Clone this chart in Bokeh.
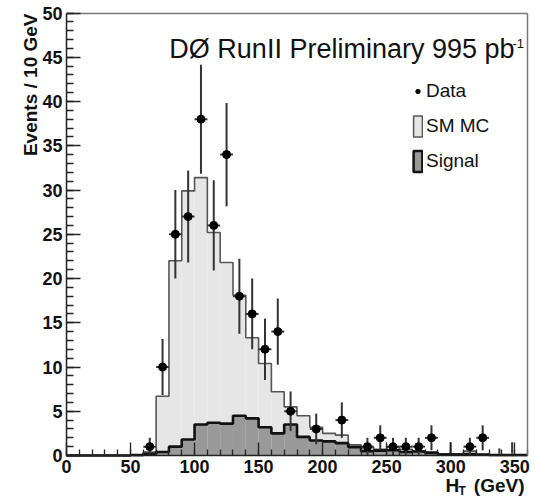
import math
from bokeh.plotting import figure
from bokeh.models import Range1d, Label, Legend, LegendItem, FixedTicker, LinearAxis
from bokeh.embed import file_html
from bokeh.resources import INLINE

# ---- data ----
bin_edges = list(range(0, 370, 10))
sm_mc = [0, 0, 0, 0, 0, 0,
         0.4, 6.7, 22.0, 29.9, 31.4, 25.2, 21.8, 18.1, 13.3, 10.4,
         7.2, 5.5, 4.5, 3.2, 2.5, 2.3, 1.2, 0.9, 0.7, 0.9,
         0.7, 0.5, 0.4, 0.2, 0.15, 0.5, 0.1, 0.05, 0.05, 0.05]
signal = [0, 0, 0, 0, 0, 0.05,
          0.2, 0.4, 1.0, 1.8, 3.5, 3.7, 3.6, 4.5, 4.2, 3.2,
          2.5, 3.5, 2.1, 1.7, 1.6, 1.4, 0.95, 0.5, 0.55, 0.6,
          0.4, 0.45, 0.3, 0.1, 0.1, 0.15, 0.1, 0.05, 0.05, 0.05]
data_x = [65, 75, 85, 95, 105, 115, 125, 135, 145, 155, 165, 175,
          195, 215, 235, 245, 255, 265, 275, 285, 315, 325]
data_y = [1, 10, 25, 27, 38, 26, 34, 18, 16, 12, 14, 5,
          3, 4, 1, 2, 1, 1, 1, 2, 1, 2]
empty_x = [300, 338, 348]
empty_lo = [0.2, 0.2, 0.2]
empty_hi = [1.5, 0.8, 1.5]

X_MIN, X_MAX = 0, 360
Y_MIN, Y_MAX = 0, 50
x_ticks = list(range(0, 351, 50))
x_minor = list(range(0, 361, 10))
y_ticks = list(range(0, 51, 5))
y_minor = list(range(0, 51, 1))

FONT = "Liberation Sans"

# ---- layout: the frame fills the whole canvas; axes sit at fixed locations ----
W, H = 535, 501
PX_LEFT, PX_RIGHT = 66.0, 527.0      # pixel of x=0 and x=360
PX_BOTTOM, PX_TOP = 455.0, 12.5      # pixel of y=0 and y=50
sx = (PX_RIGHT - PX_LEFT) / (X_MAX - X_MIN)
sy = (PX_BOTTOM - PX_TOP) / (Y_MAX - Y_MIN)
xr = Range1d(X_MIN - PX_LEFT / sx, X_MAX + (W - PX_RIGHT) / sx)
yr = Range1d(Y_MIN - (H - PX_BOTTOM) / sy, Y_MAX + PX_TOP / sy)

p = figure(width=W, height=H, x_range=xr, y_range=yr,
           output_backend="svg", toolbar_location=None,
           min_border=0, min_border_left=0, min_border_right=0,
           min_border_top=0, min_border_bottom=0)
p.xgrid.visible = False
p.ygrid.visible = False
p.outline_line_color = None

# histograms
lefts = bin_edges[:-1]
rights = bin_edges[1:]
p.quad(left=lefts, right=rights, bottom=0, top=sm_mc, fill_color="#e6e6e6", line_color=None)
p.step(x=bin_edges, y=sm_mc + [sm_mc[-1]], mode="after", line_color="#555555", line_width=1.6)
p.quad(left=lefts, right=rights, bottom=0, top=signal, fill_color="#999999", line_color=None)
p.step(x=bin_edges, y=signal + [signal[-1]], mode="after", line_color="#111111", line_width=2.6)

# data with errors
half = (bin_edges[1] - bin_edges[0]) / 2
err = [math.sqrt(v) for v in data_y]
p.segment(x0=data_x, x1=data_x, y0=[v - e for v, e in zip(data_y, err)],
          y1=[v + e for v, e in zip(data_y, err)], line_color="#333333", line_width=2)
p.segment(x0=[x - half for x in data_x], x1=[x + half for x in data_x], y0=data_y, y1=data_y,
          line_color="#333333", line_width=2)
p.segment(x0=empty_x, x1=empty_x, y0=empty_lo, y1=empty_hi, line_color="#333333", line_width=2)
p.scatter(x=data_x, y=data_y, size=8, color="black")

# legend-only renderers (one NaN row each, nothing drawn in the plot)
nan = float("nan")
leg_data = p.scatter(x=[nan], y=[nan], size=5, color="black")
leg_mc = p.quad(left=[nan], right=[nan], bottom=[nan], top=[nan], fill_color="#e6e6e6",
                line_color="#555555", line_width=1.5)
leg_sig = p.quad(left=[nan], right=[nan], bottom=[nan], top=[nan], fill_color="#999999",
                 line_color="#111111", line_width=2.5)
legend = Legend(items=[LegendItem(label="Data", renderers=[leg_data]),
                       LegendItem(label="SM MC", renderers=[leg_mc]),
                       LegendItem(label="Signal", renderers=[leg_sig])],
                location=(412, 327), glyph_width=11, glyph_height=26, spacing=9,
                padding=0, margin=0, label_standoff=3,
                label_text_font=FONT, label_text_font_size="19px", label_text_color="#111111",
                border_line_color=None, background_fill_alpha=0)
p.add_layout(legend, "center")

# axes at fixed positions
p.yaxis.fixed_location = X_MIN
p.xaxis.fixed_location = Y_MIN
p.yaxis.bounds = (Y_MIN, Y_MAX)
p.xaxis.bounds = (X_MIN, X_MAX)
for ax in (p.xaxis, p.yaxis):
    ax.major_label_text_font = FONT
    ax.major_label_text_font_style = "bold"
    ax.major_label_text_font_size = "18px"
    ax.major_label_text_color = "#111111"
    ax.axis_line_color = "#222222"
    ax.axis_line_width = 1.5
    ax.major_tick_line_color = "#222222"
    ax.minor_tick_line_color = "#222222"
    ax.major_tick_line_width = 1.3
    ax.minor_tick_line_width = 1.3
    ax.major_tick_out = 0
    ax.minor_tick_out = 0
p.xaxis.ticker = FixedTicker(ticks=x_ticks, minor_ticks=x_minor)
p.yaxis.ticker = FixedTicker(ticks=y_ticks, minor_ticks=y_minor)
p.yaxis.major_tick_in = 14
p.yaxis.minor_tick_in = 7
p.xaxis.major_tick_in = 13
p.xaxis.minor_tick_in = 6
p.yaxis.major_label_standoff = 4
p.xaxis.major_label_standoff = 4

# frame lines on top and right
top_ax = LinearAxis(fixed_location=Y_MAX, bounds=(X_MIN, X_MAX), ticker=FixedTicker(ticks=[]),
                    major_label_text_font_size="0px", axis_line_color="#777777",
                    axis_line_width=1.5, major_tick_in=0, major_tick_out=0,
                    minor_tick_in=0, minor_tick_out=0)
right_ax = LinearAxis(fixed_location=X_MAX, bounds=(Y_MIN, Y_MAX), ticker=FixedTicker(ticks=[]),
                      major_label_text_font_size="0px", axis_line_color="#777777",
                      axis_line_width=1.5, major_tick_in=0, major_tick_out=0,
                      minor_tick_in=0, minor_tick_out=0)
p.add_layout(top_ax, "above")
p.add_layout(right_ax, "right")

# texts (screen units: x from left, y from bottom of the canvas), vertically centred
def lab(x, y_px, text, size, bold=True, align="left", angle=0.0):
    p.add_layout(Label(x=x, y=H - y_px, x_units="screen", y_units="screen", text=text,
                       angle=angle, text_align=align, text_baseline="middle",
                       text_font=FONT, text_font_style="bold" if bold else "normal",
                       text_font_size=size, text_color="#111111"))

lab(29.5, 13, "Events / 10 GeV", "19px", align="right", angle=math.pi / 2)
lab(445, 485, "H", "19px")
lab(458, 490, "T", "12px")
lab(524, 485, "(GeV)", "19px", align="right")
lab(514, 48.5, "D\u00d8 RunII Preliminary 995 pb", "27px", bold=False, align="right")
lab(512, 42.5, "-1", "13px", bold=False)

open("out.html", "w").write(file_html(p, INLINE))
